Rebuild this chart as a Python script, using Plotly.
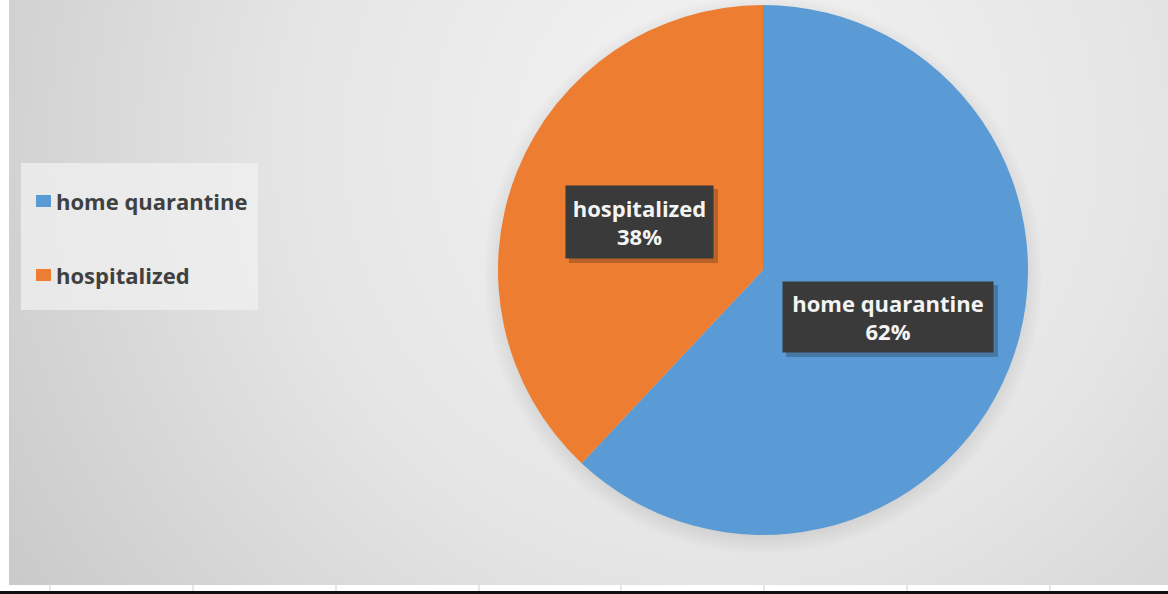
import base64
import plotly.graph_objects as go

# Patient placement shares (%)
categories = ["home quarantine", "hospitalized"]
shares = [62, 38]
slice_colors = ["#5B9BD5", "#ED7D31"]

W, H = 1168, 594
FONT = "Open Sans"

# Soft radial grey backdrop rendered as an inline SVG image
bg_svg = f"""<svg xmlns='http://www.w3.org/2000/svg' width='{W}' height='{H}'>
<defs>
<radialGradient id='g' cx='720' cy='140' r='860' gradientUnits='userSpaceOnUse'>
<stop offset='0' stop-color='#f4f4f4'/>
<stop offset='0.5' stop-color='#e5e5e5'/>
<stop offset='1' stop-color='#c8c8c8'/>
</radialGradient>
<radialGradient id='s' cx='763' cy='275' r='280' gradientUnits='userSpaceOnUse'>
<stop offset='0.9' stop-color='rgba(0,0,0,0.12)'/>
<stop offset='1' stop-color='rgba(0,0,0,0)'/>
</radialGradient>
</defs>
<rect x='0' y='0' width='{W}' height='{H}' fill='#ffffff'/>
<rect x='9' y='0' width='{W - 9}' height='585' fill='url(#g)'/>
<circle cx='763' cy='275' r='280' fill='url(#s)'/>
</svg>"""
bg_uri = "data:image/svg+xml;base64," + base64.b64encode(bg_svg.encode()).decode()

def px(x):
    return x / W

def py(y):
    return 1 - y / H

cx, cy, r = 763, 270, 265

fig = go.Figure(
    go.Pie(
        labels=categories,
        values=shares,
        sort=False,
        direction="clockwise",
        rotation=0,
        marker=dict(colors=slice_colors, line=dict(width=0)),
        textinfo="none",
        hoverinfo="label+percent",
        showlegend=False,
        domain=dict(x=[px(cx - r), px(cx + r)], y=[py(cy + r), py(cy - r)]),
    )
)

shapes = []
annotations = []

# Legend panel
shapes.append(dict(type="rect", xref="paper", yref="paper",
                   x0=px(21), x1=px(258), y0=py(310), y1=py(163),
                   fillcolor="rgba(240,240,240,0.75)", line=dict(width=0), layer="below"))
legend_rows = [201, 275]
for name, col, yy in zip(categories, slice_colors, legend_rows):
    shapes.append(dict(type="rect", xref="paper", yref="paper",
                       x0=px(36), x1=px(51), y0=py(yy + 6), y1=py(yy - 6),
                       fillcolor=col, line=dict(width=0)))
    annotations.append(dict(x=px(54), y=py(yy), xref="paper", yref="paper",
                            xanchor="left", yanchor="middle", showarrow=False,
                            text=f"<b>{name}</b>",
                            font=dict(family=FONT, size=22, color="#404040")))

# Data label call-outs
total = sum(shares)
label_boxes = {
    "home quarantine": (888, 317, 202, 62),
    "hospitalized": (639.5, 222, 139, 64),
}
for name, val in zip(categories, shares):
    bx, by, bw, bh = label_boxes[name]
    pad = 4
    # drop shadow
    shapes.append(dict(type="rect", xref="paper", yref="paper", layer="above",
                       x0=px(bx - bw / 2 - pad + 3), x1=px(bx + bw / 2 + pad + 5),
                       y0=py(by + bh / 2 + pad + 5), y1=py(by - bh / 2 - pad + 3),
                       fillcolor="rgba(0,0,0,0.22)", line=dict(width=0)))
    pct = round(100 * val / total)
    annotations.append(dict(x=px(bx), y=py(by), xref="paper", yref="paper",
                            xanchor="center", yanchor="middle", showarrow=False,
                            width=bw, height=bh, borderpad=pad,
                            bgcolor="#3a3a3a",
                            text=f"<b>{name}<br>{pct}%</b>",
                            font=dict(family=FONT, size=22, color="#f4f4f4")))

# Worksheet strip along the bottom edge
for gx in [50, 193, 336, 479, 621, 764, 907, 1050]:
    shapes.append(dict(type="line", xref="paper", yref="paper",
                       x0=px(gx), x1=px(gx), y0=py(591), y1=py(585),
                       line=dict(color="#d0d0d0", width=1)))
shapes.append(dict(type="rect", xref="paper", yref="paper",
                   x0=0, x1=1, y0=0, y1=py(591),
                   fillcolor="#111111", line=dict(width=0)))

fig.update_layout(
    width=W, height=H,
    margin=dict(l=0, r=0, t=0, b=0),
    paper_bgcolor="#ffffff",
    plot_bgcolor="#ffffff",
    images=[dict(source=bg_uri, xref="paper", yref="paper", x=0, y=1,
                 sizex=1, sizey=1, xanchor="left", yanchor="top",
                 sizing="stretch", layer="below")],
    shapes=shapes,
    annotations=annotations,
)

fig.write_html("out.html")
